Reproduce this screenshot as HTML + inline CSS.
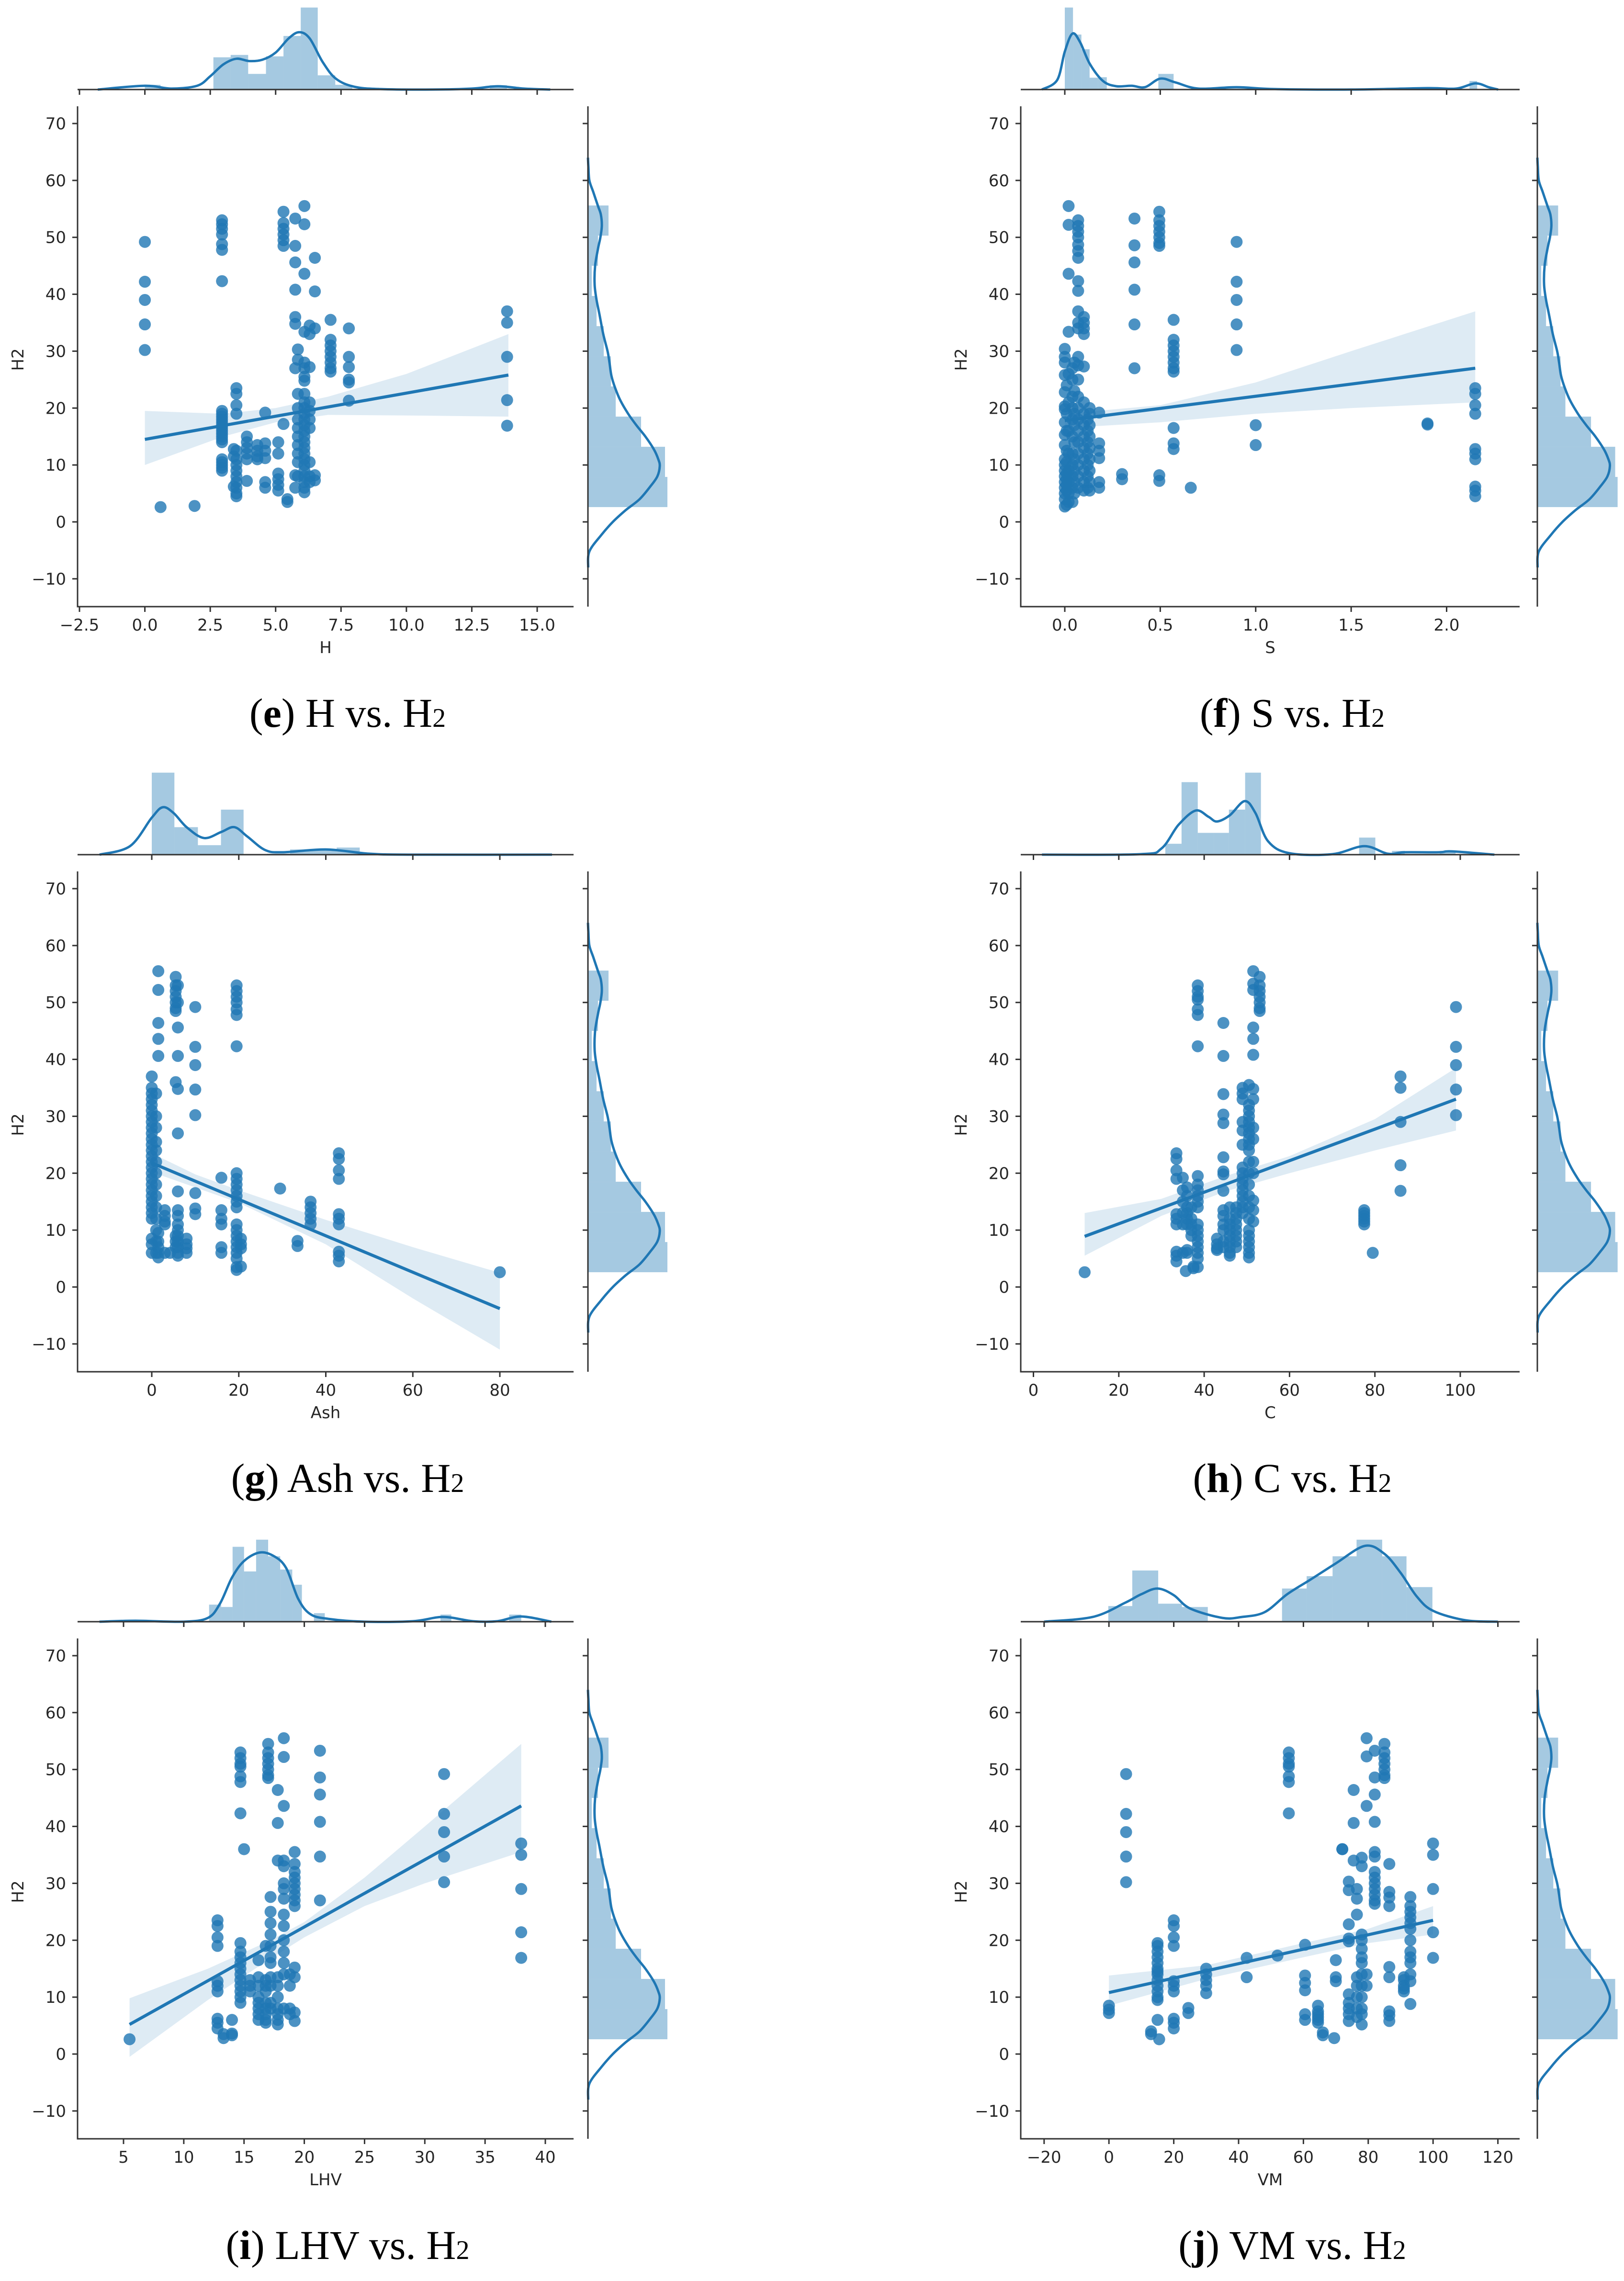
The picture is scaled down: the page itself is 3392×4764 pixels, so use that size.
<!DOCTYPE html>
<html><head><meta charset="utf-8">
<style>
html,body{margin:0;padding:0;background:#fff;}
svg{display:block;}
text{font-family:"DejaVu Sans","Liberation Sans",sans-serif;fill:#262626;}
.cap{font-family:"Liberation Serif",serif;fill:#000;}
</style></head>
<body>
<svg id="fig" xmlns="http://www.w3.org/2000/svg" width="3392" height="4764" viewBox="0 0 3392 4764"></svg>
<script>
// ---------- shared H2 marginal (right) ----------
const h2HistEdges = [2.6,7.9,13.2,18.5,23.8,29.1,34.4,39.7,45.0,50.3,55.6];
const h2HistHeights = [166,161,111,58,48,33,18,8,21,43];
const h2KdeY = [-8,-5.2,-2.3,0,2,4,6.3,8,9.8,11,12.7,15,17,19,21.3,23.5,25.7,28,30,33,36.5,39,41.7,45,48,50,52,54,55.5,58,60,62.4,64];
const h2KdeV = [0.5,3,28,52,78,108,131,145,150,147,138,120,101,84,68,57,49,45,41,32,24,18,14,15,21,26,29,27,21,11,3,1,0];
const yTicks = [-10,0,10,20,30,40,50,60,70];

// ---------- panel e : H ----------
const eXTicks = [-2.5,0.0,2.5,5.0,7.5,10.0,12.5,15.0];
const eXTickLabels = ["\u22122.5","0.0","2.5","5.0","7.5","10.0","12.5","15.0"];
const eClusterX = [0,0.6,1.9,2.95,3.5,3.4,3.9,4.3,4.6,5.1,5.3,5.45,5.75,5.85,6.1,6.3,6.5,7.1,7.8,13.85];
const eClusterY = [[49.2,42.2,39,34.7,30.2],[2.6],[2.8],[53,52.3,51.5,50.5,48.8,47.8,42.3,19.5,19,18.5,18,17.5,17,16.5,16,15.5,15,14.5,14,11,10.5,10,9.5,9],[23.5,22.5,20.5,19,12.5,11,10,9,8,7,6,5,4.5],[12.8,11.5,6.2],[15,14,13,12,11,7.2],[13.5,12.5,11.5,11],[19.2,13.8,12.5,11.2,7,6],[14,12,8.5,7.5,6.5,5.5],[54.5,52.5,51.5,50.5,49.5,48.5,17.2],[4,3.5],[53.3,48.5,45.6,40.8,36,34.8,27,8.2,6],[30.3,28.5,22.5,20,18,16.5,15,13.5,12,10.5,8],[55.5,52.3,43.6,33.4,28,27,25.5,24.8,22.5,21,20,19,18,17,16,15,14,13,12,11,10,9,8,7,6,5.2],[34.5,33,27.2,21,19.5,18,16.5,10.5,8,7],[46.4,40.5,34,8.2,7.3],[35.5,32,31,30,29,28,27,26.4],[34,29,27.2,25,24.5,21.3],[37,35,29,21.4,16.9]];
const eFitX = [0,13.9];
const eFitY = [14.5,25.8];
const eBandX = [0,3,5,7,10,13.9];
const eBandLo = [10,15,17.5,18.8,18.7,18.5];
const eBandHi = [19.5,19,20,22,26,33];
const eTopEdges = [0,0.6,null,2.62,3.28,3.95,4.63,5.30,5.96,6.61,7.28,7.93,null,13.19,13.84];
const eTopHeights = [10,0,0,68,73,33,70,113,173,30,10,0,0,9];
const eKdeX = [-1.8,0,1,2,2.5,3,3.5,4,4.5,5,5.5,5.9,6.3,6.8,7.3,8,9,11,12.5,13.5,14.5,15.5];
const eKdeV = [0,8,2,8,28,53,65,60,63,78,108,121,108,58,23,6,1,0,2,7,2,0];

// ---------- panel f : S ----------
const fXTicks = [0,0.5,1.0,1.5,2.0];
const fXTickLabels = ["0.0","0.5","1.0","1.5","2.0"];
const fClusterX = [0.0,0.01,0.02,0.04,0.05,0.07,0.1,0.12,0.13,0.18,0.3,0.365,0.495,0.57,0.66,0.9,1.0,1.9,2.15];
const fClusterY = [[30.4,29,28,25.8,22.8,20.3,19.8,17.5,15.3,13.5,11,10,9,8,7,6,5,4,2.7],[24,19,16,12.5,10.5,8.5,7.5,6.5,5.5,3],[55.5,52.2,43.6,33.4,26,21,16,12,9,7,5,3.5],[27,25,22,20,18,15,12,10,8,6,3.5],[28,23,19,17,14,11,9,7,5],[53,52,51,50,48.7,47.6,46.4,42.3,40.6,37,35,34,29,27.5,25,22,20,18,16,14,12,10,8,6],[36,35,34,33,27.3,21,19,17,15,13,11,9,7,5.5],[18,16,14,12,10,8,6],[20,19,17,15,13,11,9,7,5.5],[19.2,13.8,12.5,11.2,7,6],[8.4,7.5],[53.3,48.6,45.6,40.8,34.7,27],[54.5,53,52,51,50,49,48.5,8.2,7.2],[35.5,32,31,30,29,28,27,26.4,16.5,13.8,12.8],[6],[49.2,42.2,39,34.7,30.2],[17,13.5],[17.3,17.1],[23.5,22.5,20.5,19,12.8,12,11,6.2,5.5,4.5]];
const fFitX = [0,2.15];
const fFitY = [17.8,27];
const fBandX = [0,0.5,1,1.5,2.15];
const fBandLo = [16.5,17.5,19,20,21];
const fBandHi = [19,20.5,24.5,30,37];
const fTopEdges = [0,0.043,0.087,0.13,0.175,0.22,null,0.49,0.57,null,2.12,2.16];
const fTopHeights = [173,116,85,25,26,0,0,33,0,0,18];
const fKdeX = [-0.12,-0.04,0,0.04,0.08,0.13,0.2,0.27,0.35,0.42,0.5,0.58,0.7,0.9,1.1,1.5,1.9,2.05,2.15,2.22,2.27];
const fKdeV = [0,20,80,118,100,55,18,7,8,5,23,15,2,5,1,0,3,2,13,5,0];

// ---------- panel g : Ash ----------
const gXTicks = [0,20,40,60,80];
const gXTickLabels = ["0","20","40","60","80"];
const gClusterX = [0,1,1.5,3,4.2,5.5,6,8,10,16,19.5,20.5,29.5,33.5,36.5,43,80];
const gClusterY = [[37,35,34,33,32,31,30,29,28,27,26,25,24,23,22,21,20,19,18,17,16,15,14,13,12,8.5,7.5,6],[34,30,28,25.5,24,22,20,18,16,14,12,10,8,6],[55.5,52.2,46.4,43.6,40.6,9.5,8,7,6,5.2],[13.5,12.5,11.5,11,6],[6],[54.5,53,52,51,50,49,48.5,36,9,8,7],[53,50,45.6,40.6,34.8,27,16.8,13.5,12.5,11,10,9,8,7,6,5.5],[8.5,7.5,6.8,6],[49.2,42.2,39,34.7,30.2,16.5,13.8,12.8],[19.2,13.5,12,11,7,6],[53,52,51,50,48.8,47.8,42.3,20,19,18,17,16,15,14,11,10,9,8,7,6,5,3.5,3],[8.5,7.5,6.8,3.6],[17.3],[8.1,7.2],[15,14,13,12,11],[23.5,22.5,20.5,19,12.8,12,11,6.2,5.5,4.5],[2.6]];
const gFitX = [0,80];
const gFitY = [21.8,-3.8];
const gBandX = [0,10,20,40,60,80];
const gBandLo = [20.2,17.5,14.8,7.5,-2,-11];
const gBandHi = [23.5,19.8,17,11.8,7,2.5];
const gTopEdges = [0,5.2,10.6,15.9,21.1,26.5,31.8,37.1,42.5,47.8];
const gTopHeights = [173,58,20,95,0,2,11,9,15];
const gKdeX = [-12,-5,0,2.5,5,8,12,16,19,22,26,30,40,50,60,92];
const gKdeV = [0,18,78,100,88,58,35,48,58,38,10,5,11,2,0,0];

// ---------- panel h : C ----------
const hXTicks = [0,20,40,60,80,100];
const hXTickLabels = ["0","20","40","60","80","100"];
const hClusterX = [12,33.5,35,35.7,36,37,37.5,38.5,43,44.5,46,47.5,49,50.5,51.5,53,77.5,79.5,86,99];
const hClusterY = [[2.6],[23.5,22.5,20.5,19,12.8,12,11,6.2,5.5,4.5],[19.2,17,15,13,11,6],[2.8],[17.5,16,14,13,12,11,6.5,6],[14,12,11,10,9],[3.6,3.3],[53,52,51,50.5,48.8,47.8,42.3,19.5,18,17,16,15,14,11,10,9,8,7,6,5,3.5],[8.5,7.5,6.8,6.5],[46.4,40.6,33.9,30.3,28.8,22.8,20.3,19.8,16.9,13.5,12.5,11,10,8,7],[14,12,11,10,9,8,7,6,5.5],[14,13,12,11,10,9,8,7],[35,34,33,29,27.5,25,21,20,19,18,17,16,15,14,13],[35.5,32,31,30,29,28,27,26,25,24,22,20,18,16,14,12,10,9,8,7,6,5.2],[55.5,53.3,52.2,45.6,43.6,40.8,34.8,33,28,26,22,20,15.2,13.5,11.5],[54.5,53,52,51,50,49,48.5],[13.5,13,12.5,12,11.5,11],[6],[37,35,29,21.4,16.9],[49.2,42.2,39,34.7,30.2]];
const hFitX = [12,99];
const hFitY = [8.9,33];
const hBandX = [12,30,45,60,80,99];
const hBandLo = [5.5,12.5,16.8,20,24,27.5];
const hBandHi = [13,15.5,19.5,23,29.5,38.5];
const hTopEdges = [30.9,34.7,38.5,42.3,45.8,49.6,53.3,null,76.3,80.1,null,84,87,null,95.2,98.9];
const hTopHeights = [23,153,46,46,95,173,0,0,36,0,0,8,0,0,8];
const hKdeX = [2,25,30,34,38,41,43,46,49.5,52,55,60,70,77.5,83,87,95,98,108];
const hKdeV = [0,1,13,63,93,80,70,83,113,88,28,3,1,18,2,5,5,7,0];

// ---------- panel i : LHV ----------
const iXTicks = [5,10,15,20,25,30,35,40];
const iXTickLabels = ["5","10","15","20","25","30","35","40"];
const iClusterX = [5.5,12.8,13.3,14,14.7,15,15.5,16.2,16.8,17,17.2,17.8,18.3,18.8,19.2,21.3,31.6,38];
const iClusterY = [[2.6],[23.5,22.5,20.5,19,12.8,12,11,6.2,5.5,4.5],[2.8,3.5],[6,3.6,3.3],[53,52,51,50.5,48.8,47.8,42.3,19.5,18,17,16,15,14,13,12,11,10,9],[36],[13,12,11],[16.5,13.5,12,10,9,8,7,6],[19,13,12,11,9,8,7,6,5.5],[54.5,53,52,51,50,49,48.5],[27.6,25,23,21,19,17,16,13.5,12,9,8],[46.4,40.6,34,13.5,12,10,8,7,6,5.2],[55.5,52.2,43.6,34,33,30,29,27.3,24.5,22.5,20,18,16,14,8],[14,12,8,7],[35.5,33.4,32,31,30,29,28,27,26,15.2,13.5,7.3,5.8],[53.3,48.6,45.6,40.8,34.7,27],[49.2,42.2,39,34.7,30.2],[37,35,29,21.4,16.9]];
const iFitX = [5.5,38];
const iFitY = [5.2,43.6];
const iBandX = [5.5,12,17,20,25,30,38];
const iBandLo = [-0.5,9.5,16.5,20.5,26,30,35.5];
const iBandHi = [9.8,15,19.8,23.2,31,40,54.5];
const iTopEdges = [12.1,13.1,14.05,15,16,17,18,19,19.8,null,20.8,21.7,null,31.3,32.2,null,37,38];
const iTopHeights = [36,31,158,106,173,138,110,78,0,0,18,0,0,15,0,0,15];
const iKdeX = [3,6,10,12,13,14,15,16.3,17.5,18.5,19.5,20.5,22,25,29,31.5,34,36,38,40.5];
const iKdeV = [0,2,0,8,38,93,128,146,138,113,48,16,6,0,1,10,1,1,11,0];

// ---------- panel j : VM ----------
const jXTicks = [-20,0,20,40,60,80,100,120];
const jXTickLabels = ["\u221220","0","20","40","60","80","100","120"];
const jClusterX = [0,5.3,13,15.5,15,20,24.5,30,42.5,52,55.5,60.5,64.5,66,69.5,70,72,74,75.5,76.5,78,79.5,82,85,86.5,91,93,100];
const jClusterY = [[8.5,7.8,7.2],[49.2,42.2,39,34.7,30.2],[4,3.5],[2.6],[19.5,19,18,17,16,15,14.5,14,13,12,11,10,9.5,6],[23.5,22.5,20.5,19,12.8,12,11,6.2,5.5,4.5],[8.1,7.2],[15,14,13,12,10.7],[16.9,13.5],[17.3],[53,52,51,50.5,48.8,47.8,42.3],[19.2,13.8,12.5,11.2,7,6],[8.5,7.5,7,6.5,6,5.5],[3.8,3.3],[2.8],[16.5,13.5,12.8],[36,36],[30.3,28.8,22.8,20.3,19.8,10.5,9,8,7,5.8],[46.4,40.6,34],[29,27.3,24.5,13.5,12,10,8,6.5],[34.5,33,21,20,18.5,17,16,14,12,10,8,7,5.2],[55.5,52.3,43.6,14,12],[53.3,48.6,45.6,40.8,35.5,34.7,32,31,30,29,28,27,26.4],[54.5,53,52,51,50,49,48.5],[33.4,28.5,27.5,26,15.3,13.5,7.5,6.8,5.8],[13.5,13,12,11.5,11],[27.6,26,25,24,23,22,20,18,17,16,14,12.8,8.8],[37,35,29,21.4,16.9]];
const jFitX = [0,100];
const jFitY = [10.8,23.5];
const jBandX = [0,30,60,80,100];
const jBandLo = [8.5,13.2,17,19.5,21];
const jBandHi = [13.8,15.6,19.5,22,26];
const jTopEdges = [-0.2,7.2,15.2,22.5,30.5,null,53.4,61,69,76.4,84.3,91.8,99.8];
const jTopHeights = [33,108,38,31,0,0,70,96,138,173,138,73];
const jKdeX = [-20,-5,5,10,15,20,25,35,41,48,55,62,70,79,85,90,95,100,110,120];
const jKdeV = [0,10,40,58,70,56,28,8,10,20,58,88,123,160,143,103,53,23,3,0];

// ---------- rendering ----------
const NS = "http://www.w3.org/2000/svg";
const svg = document.getElementById("fig");
const BLUE = "#1f77b4";
function mk(parent, tag, attrs) {
  const el = document.createElementNS(NS, tag);
  for (const k in attrs) el.setAttribute(k, attrs[k]);
  parent.appendChild(el);
  return el;
}
function linear(d0, d1, r0, r1) { return v => r0 + (v - d0) * (r1 - r0) / (d1 - d0); }
function smooth(pts) {
  let d = "M" + pts[0][0].toFixed(1) + "," + pts[0][1].toFixed(1);
  for (let i = 0; i < pts.length - 1; i++) {
    const p0 = pts[Math.max(0, i - 1)], p1 = pts[i], p2 = pts[i + 1], p3 = pts[Math.min(pts.length - 1, i + 2)];
    const c1x = p1[0] + (p2[0] - p0[0]) / 6, c1y = p1[1] + (p2[1] - p0[1]) / 6;
    const c2x = p2[0] - (p3[0] - p1[0]) / 6, c2y = p2[1] - (p3[1] - p1[1]) / 6;
    d += "C" + c1x.toFixed(1) + "," + c1y.toFixed(1) + " " + c2x.toFixed(1) + "," + c2y.toFixed(1) + " " + p2[0].toFixed(1) + "," + p2[1].toFixed(1);
  }
  return d;
}

const panels = [
  {id:"e", label:"H", oy:0, col:0, xd:[-2.5,15], xr:[166,1122], ticks:eXTicks, tl:eXTickLabels, cx:eClusterX, cy:eClusterY, fx:eFitX, fy:eFitY, bx:eBandX, blo:eBandLo, bhi:eBandHi, te:eTopEdges, th:eTopHeights, kx:eKdeX, kv:eKdeV},
  {id:"f", label:"S", oy:0, col:1, xd:[0,2], xr:[2224,3021.5], ticks:fXTicks, tl:fXTickLabels, cx:fClusterX, cy:fClusterY, fx:fFitX, fy:fFitY, bx:fBandX, blo:fBandLo, bhi:fBandHi, te:fTopEdges, th:fTopHeights, kx:fKdeX, kv:fKdeV},
  {id:"g", label:"Ash", oy:1598, col:0, xd:[0,80], xr:[317,1044], ticks:gXTicks, tl:gXTickLabels, cx:gClusterX, cy:gClusterY, fx:gFitX, fy:gFitY, bx:gBandX, blo:gBandLo, bhi:gBandHi, te:gTopEdges, th:gTopHeights, kx:gKdeX, kv:gKdeV},
  {id:"h", label:"C", oy:1598, col:1, xd:[0,100], xr:[2158.5,3050], ticks:hXTicks, tl:hXTickLabels, cx:hClusterX, cy:hClusterY, fx:hFitX, fy:hFitY, bx:hBandX, blo:hBandLo, bhi:hBandHi, te:hTopEdges, th:hTopHeights, kx:hKdeX, kv:hKdeV},
  {id:"i", label:"LHV", oy:3200, col:0, xd:[5,40], xr:[258,1139], ticks:iXTicks, tl:iXTickLabels, cx:iClusterX, cy:iClusterY, fx:iFitX, fy:iFitY, bx:iBandX, blo:iBandLo, bhi:iBandHi, te:iTopEdges, th:iTopHeights, kx:iKdeX, kv:iKdeV},
  {id:"j", label:"VM", oy:3200, col:1, xd:[-20,120], xr:[2180.8,3128.6], ticks:jXTicks, tl:jXTickLabels, cx:jClusterX, cy:jClusterY, fx:jFitX, fy:jFitY, bx:jBandX, blo:jBandLo, bhi:jBandHi, te:jTopEdges, th:jTopHeights, kx:jKdeX, kv:jKdeV}
];

panels.forEach(p => {
  const L = p.col ? 2132 : 162, R = p.col ? 3174 : 1198, MX = p.col ? 3211 : 1228;
  const top = p.oy + 222, bot = p.oy + 1267, base = p.oy + 187;
  const X = linear(p.xd[0], p.xd[1], p.xr[0], p.xr[1]);
  const Y = v => p.oy + 1090 - v * 11.886;
  const g = mk(svg, "g", {});
  
  

  // --- top marginal ---
  const tg = mk(g, "g", {});
  
  
  for (let k = 0; k < p.th.length; k++) {
    const a = p.te[k], b = p.te[k + 1];
    if (a === null || b === null || !p.th[k]) continue;
    const hh = p.th[k] * 0.99;
    const r = mk(tg, "rect", {x: X(a), y: base - hh, width: X(b) - X(a), height: hh, fill: BLUE, "fill-opacity": 0.4});
    
    
  }
  const tpts = p.kx.map((x, k) => [X(x), base - p.kv[k] * 0.99]);
  const tk = mk(tg, "path", {d: smooth(tpts), fill: "none", stroke: BLUE, "stroke-width": 5});
  
  
  const tax = mk(tg, "line", {x1: L, x2: R, y1: base, y2: base, stroke: "#333", "stroke-width": 3});
  
  
  p.ticks.forEach(t => {
    const l = mk(tg, "line", {x1: X(t), x2: X(t), y1: base, y2: base + 11, stroke: "#333", "stroke-width": 3});
    
    
  });

  // --- right marginal ---
  const rg = mk(g, "g", {});
  
  
  const ws = p.col ? 1.01 : 1;
  for (let k = 0; k < h2HistHeights.length; k++) {
    const r = mk(rg, "rect", {x: MX, y: Y(h2HistEdges[k + 1]), width: h2HistHeights[k] * ws, height: Y(h2HistEdges[k]) - Y(h2HistEdges[k + 1]), fill: BLUE, "fill-opacity": 0.4});
    
    
  }
  const rpts = h2KdeY.map((y, k) => [MX + h2KdeV[k] * ws, Y(y)]);
  const rk = mk(rg, "path", {d: smooth(rpts), fill: "none", stroke: BLUE, "stroke-width": 5});
  
  
  const rax = mk(rg, "line", {x1: MX, x2: MX, y1: top, y2: bot, stroke: "#333", "stroke-width": 3});
  
  
  yTicks.forEach(t => {
    const l = mk(rg, "line", {x1: MX - 11, x2: MX, y1: Y(t), y2: Y(t), stroke: "#333", "stroke-width": 3});
    
    
  });

  // --- main: band, points, fit ---
  let bd = "";
  p.bx.forEach((x, k) => { bd += (k ? "L" : "M") + X(x).toFixed(1) + "," + Y(p.bhi[k]).toFixed(1); });
  for (let k = p.bx.length - 1; k >= 0; k--) bd += "L" + X(p.bx[k]).toFixed(1) + "," + Y(p.blo[k]).toFixed(1);
  const band = mk(g, "path", {d: bd + "Z", fill: BLUE, "fill-opacity": 0.15});
  
  
  const pg = mk(g, "g", {});
  
  
  p.cx.forEach((x, k) => {
    p.cy[k].forEach(y => {
      const c = mk(pg, "circle", {cx: X(x), cy: Y(y), r: 12.5, fill: BLUE, "fill-opacity": 0.8});
      
      
    });
  });
  const fit = mk(g, "line", {x1: X(p.fx[0]), y1: Y(p.fy[0]), x2: X(p.fx[1]), y2: Y(p.fy[1]), stroke: BLUE, "stroke-width": 6.5});
  
  

  // --- axes ---
  const ya = mk(g, "line", {x1: L, x2: L, y1: top, y2: bot + 1.5, stroke: "#333", "stroke-width": 3});
  
  
  const xa = mk(g, "line", {x1: L - 1.5, x2: R, y1: bot, y2: bot, stroke: "#333", "stroke-width": 3});
  
  
  yTicks.forEach(t => {
    const l = mk(g, "line", {x1: L - 11, x2: L, y1: Y(t), y2: Y(t), stroke: "#333", "stroke-width": 3});
    
    
    const tx = mk(g, "text", {x: L - 24, y: Y(t) + 12, "font-size": 34, "text-anchor": "end"});
    tx.textContent = t < 0 ? "\u2212" + Math.abs(t) : String(t);
    
    
  });
  p.ticks.forEach((t, k) => {
    const l = mk(g, "line", {x1: X(t), x2: X(t), y1: bot, y2: bot + 11, stroke: "#333", "stroke-width": 3});
    
    
    const tx = mk(g, "text", {x: X(t), y: bot + 50, "font-size": 34, "text-anchor": "middle"});
    tx.textContent = p.tl[k];
    
    
  });
  const xt = mk(g, "text", {x: (L + R) / 2, y: bot + 97, "font-size": 34, "text-anchor": "middle"});
  xt.textContent = p.label;
  
  
  const yx = p.col ? 2019 : 49, yy = p.oy + 751;
  const ytl = mk(g, "text", {x: yx, y: yy, "font-size": 34, "text-anchor": "middle", transform: "rotate(-90 " + yx + " " + yy + ")"});
  ytl.textContent = "H2";
  
  

  // --- caption ---
  const capX = p.col ? 2699 : 726;
  const cap = mk(g, "text", {x: capX, y: p.oy + 1518, "font-size": 86, "text-anchor": "middle", "class": "cap"});
  
  
  const t1 = mk(cap, "tspan", {}); t1.textContent = "(";
  const t2 = mk(cap, "tspan", {"font-weight": "bold"}); t2.textContent = p.id;
  const t3 = mk(cap, "tspan", {}); t3.textContent = ") " + p.label + " vs. H";
  const t4 = mk(cap, "tspan", {"font-size": 56}); t4.textContent = "2";
});
</script>
</body></html>
